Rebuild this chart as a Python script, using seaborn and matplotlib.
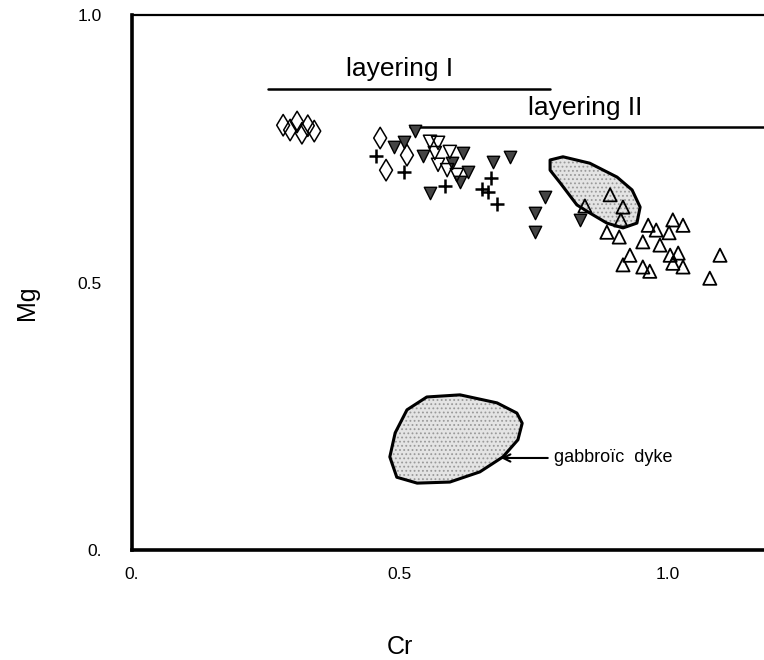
import matplotlib
matplotlib.use("Agg")
import matplotlib.pyplot as plt
import seaborn as sns
import numpy as np

# ---------------- data ----------------
diamond_cr = [0.282, 0.295, 0.308, 0.317, 0.328, 0.340, 0.463, 0.513, 0.474]
diamond_mg = [0.794, 0.785, 0.800, 0.779, 0.793, 0.783, 0.770, 0.738, 0.710]

plus_cr = [0.455, 0.507, 0.584, 0.653, 0.670, 0.664, 0.681]
plus_mg = [0.736, 0.707, 0.680, 0.675, 0.695, 0.669, 0.647]

tdown_fill_cr = [0.489, 0.507, 0.528, 0.543, 0.618, 0.597, 0.627, 0.612, 0.556,
                 0.674, 0.705, 0.771, 0.752, 0.752, 0.836]
tdown_fill_mg = [0.753, 0.763, 0.783, 0.736, 0.742, 0.723, 0.707, 0.688, 0.667,
                 0.725, 0.735, 0.660, 0.630, 0.594, 0.617]

tdown_open_cr = [0.556, 0.571, 0.565, 0.593, 0.571, 0.588, 0.606]
tdown_open_mg = [0.763, 0.761, 0.742, 0.744, 0.720, 0.710, 0.701]

tup_open_cr = [0.892, 0.916, 0.912, 0.886, 0.909, 0.963, 0.978, 1.009, 1.028, 1.002,
               0.953, 0.985, 0.929, 0.916, 0.953, 0.966, 1.004, 1.019, 1.009, 1.028,
               1.097, 1.078, 0.845]
tup_open_mg = [0.664, 0.641, 0.617, 0.594, 0.585, 0.607, 0.598, 0.617, 0.607, 0.593,
               0.576, 0.570, 0.551, 0.533, 0.529, 0.521, 0.551, 0.555, 0.536, 0.529,
               0.551, 0.508, 0.643]

field_cr = [0.780, 0.804, 0.854, 0.905, 0.933, 0.948, 0.942, 0.916, 0.886, 0.854, 0.830, 0.799, 0.780]
field_mg = [0.729, 0.735, 0.723, 0.697, 0.673, 0.641, 0.611, 0.602, 0.611, 0.630, 0.645, 0.686, 0.710]

dyke_cr = [0.550, 0.612, 0.681, 0.718, 0.728, 0.720, 0.692, 0.649, 0.593, 0.532, 0.494, 0.481, 0.491, 0.513]
dyke_mg = [0.286, 0.290, 0.275, 0.256, 0.237, 0.206, 0.174, 0.146, 0.127, 0.125, 0.136, 0.174, 0.219, 0.262]

layer1_cr = [0.254, 0.780]
layer1_mg = [0.862, 0.862]
layer2_cr = [0.519, 1.18]
layer2_mg = [0.791, 0.791]

x_ticks = [0.0, 0.5, 1.0]
x_tick_labels = ["0.", "0.5", "1.0"]
y_ticks = [0.0, 0.5, 1.0]
y_tick_labels = ["0.", "0.5", "1.0"]

# ---------------- figure ----------------
sns.set_style("white")
plt.rcParams['font.family'] = ['Liberation Sans', 'DejaVu Sans']
plt.rcParams['text.color'] = 'black'
plt.rcParams['xtick.color'] = 'black'
plt.rcParams['ytick.color'] = 'black'
plt.rcParams['hatch.linewidth'] = 0.8

fig = plt.figure(figsize=(7.64, 6.60), dpi=100)
ax = fig.add_axes([132/764, 110/660, 632/764, 535/660])

# shaded (stippled) fields
for cr, mg in [(field_cr, field_mg), (dyke_cr, dyke_mg)]:
    ax.fill(cr, mg, facecolor='#e4e4e4', edgecolor='#9a9a9a', lw=0, hatch='....', zorder=1)
    ax.fill(cr, mg, facecolor='none', edgecolor='black', lw=2.2, joinstyle='round', zorder=1.5)

# layering lines
sns.lineplot(x=layer1_cr, y=layer1_mg, color='black', lw=1.8, ax=ax, zorder=2)
sns.lineplot(x=layer2_cr, y=layer2_mg, color='black', lw=1.8, ax=ax, zorder=2)

# points
sns.scatterplot(x=diamond_cr, y=diamond_mg, marker='d', s=120, facecolor='none',
                edgecolor='black', linewidth=1.1, ax=ax, zorder=3)
sns.scatterplot(x=plus_cr, y=plus_mg, marker='+', s=90, color='black',
                linewidth=1.8, ax=ax, zorder=3)
sns.scatterplot(x=tdown_fill_cr, y=tdown_fill_mg, marker='v', s=80, facecolor='#444444',
                edgecolor='black', linewidth=1.0, ax=ax, zorder=3)
sns.scatterplot(x=tdown_open_cr, y=tdown_open_mg, marker='v', s=90, facecolor='none',
                edgecolor='black', linewidth=1.1, ax=ax, zorder=3)
sns.scatterplot(x=tup_open_cr, y=tup_open_mg, marker='^', s=90, facecolor='none',
                edgecolor='black', linewidth=1.3, ax=ax, zorder=3)

# annotations
ax.text(0.50, 0.900, "layering I", ha='center', va='center', fontsize=19)
ax.text(0.845, 0.827, "layering II", ha='center', va='center', fontsize=19)
ax.annotate("gabbroïc  dyke", xy=(0.683, 0.172), xytext=(0.787, 0.172),
            ha='left', va='center', fontsize=13,
            arrowprops=dict(arrowstyle='->', color='black', lw=1.5))

# axes
ax.set_xlim(0, 632/536)
ax.set_ylim(0, 1.0)
ax.set_xticks(x_ticks)
ax.set_xticklabels(x_tick_labels)
ax.set_yticks(y_ticks)
ax.set_yticklabels(y_tick_labels)
ax.set_xticks(np.arange(0.1, 1.18, 0.1), minor=True)
ax.set_yticks(np.arange(0.1, 1.0, 0.1), minor=True)
ax.tick_params(which='both', direction='in', length=5, width=1.3, color='black',
               labelsize=12.5)
ax.tick_params(axis='x', which='major', pad=12)
ax.tick_params(axis='y', which='major', pad=22)
ax.spines['right'].set_visible(False)
ax.spines['left'].set_linewidth(2.6)
ax.spines['bottom'].set_linewidth(2.6)
ax.spines['top'].set_linewidth(1.6)
for s in ['left', 'bottom', 'top']:
    ax.spines[s].set_color('black')

fig.text(27/764, 1 - 303/660, "Mg", rotation=90, ha='center', va='center', fontsize=18)
fig.text(400/764, 1 - 647/660, "Cr", ha='center', va='center', fontsize=18)

fig.savefig("out.png", dpi=100)
